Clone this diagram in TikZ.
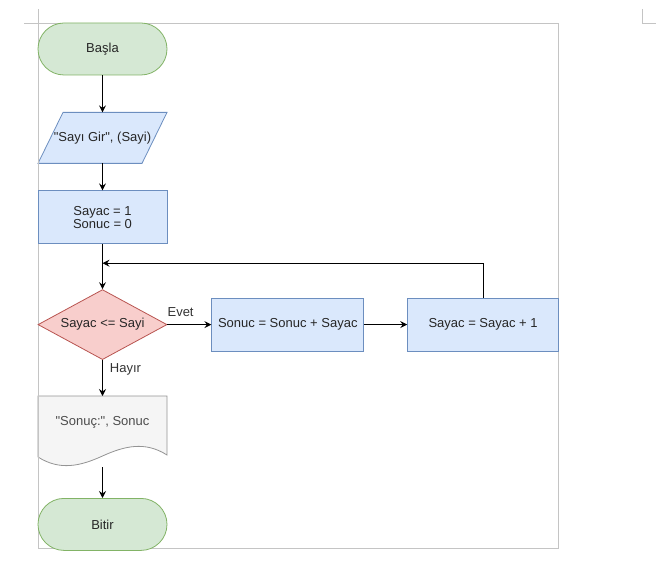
\documentclass[tikz,border=0pt]{standalone}
\usepackage{fontspec}
\newfontfamily\flowfont{Liberation Sans}
\definecolor{flowGreen}{HTML}{D5E8D4}
\definecolor{flowGreenLine}{HTML}{82B366}
\definecolor{flowBlue}{HTML}{DAE8FC}
\definecolor{flowBlueLine}{HTML}{6C8EBF}
\definecolor{flowRed}{HTML}{F8CECC}
\definecolor{flowRedLine}{HTML}{B85450}
\definecolor{flowGray}{HTML}{F5F5F5}
\definecolor{flowGrayLine}{HTML}{666666}
\definecolor{pageLine}{HTML}{C4C4C4}
\usetikzlibrary{arrows.meta,positioning,shapes.geometric,backgrounds}

\begin{document}
\begin{tikzpicture}[
  x=1pt, y=-1pt,
  base/.style={line width=0.8pt, font=\flowfont\fontsize{13}{13}\selectfont,
               text=black!85, align=center, inner sep=0pt},
  term/.style={base, draw=flowGreenLine, fill=flowGreen, rounded corners=26pt,
               minimum width=129pt, minimum height=52pt},
  iobox/.style={base, outer sep=0pt, minimum width=129pt, minimum height=51pt},
  proc/.style={base, draw=flowBlueLine, fill=flowBlue, minimum height=53pt},
  decision/.style={base, draw=flowRedLine, fill=flowRed, diamond, shape aspect=1.84,
                   minimum width=129pt, minimum height=70pt},
  docbox/.style={base, outer sep=0pt, text=black!70, minimum width=129pt,
                 text height=29pt, text depth=42pt},
  arr/.style={-{Stealth[length=7pt,width=7pt,inset=2.5pt]}, line width=0.9pt},
  lbl/.style={font=\flowfont\fontsize{13}{13}\selectfont, text=black!80, inner sep=2pt}
]
  \useasboundingbox (0,0) rectangle (666,569);
  \draw[pageLine, line width=0.8pt] (38,23) rectangle (558,548);
  \draw[pageLine, line width=0.8pt] (24,23) -- (38,23) -- (38,9);
  \draw[pageLine, line width=0.8pt] (642,9) -- (642,23) -- (656,23);

  \node[term] (start) at (102.5,49) {Başla};
  \node[iobox, below=37pt of start] (input) {"Sayı Gir", (Sayi)};
  \node[proc, minimum width=129pt, below=27pt of input] (init) {Sayac = 1\\Sonuc = 0};
  \node[decision, below=45pt of init] (cond) {Sayac <= Sayi};
  \node[proc, minimum width=152pt, right=44pt of cond] (sum) {Sonuc = Sonuc + Sayac};
  \node[proc, minimum width=151pt, right=43pt of sum] (inc) {Sayac = Sayac + 1};
  \node[docbox, below=36pt of cond] (out) {"Sonuç:", Sonuc};
  \node[term, below=31pt of out] (stop) {Bitir};
  \coordinate[below=19pt of init] (join);

  \begin{scope}[on background layer]
    \draw[line width=0.8pt, draw=flowBlueLine, fill=flowBlue]
      ([xshift=25pt]input.north west) -- (input.north east)
      -- ([xshift=-25pt]input.south east) -- (input.south west) -- cycle;
    \draw[line width=0.8pt, draw=flowGrayLine!70, fill=flowGray]
      (out.north west) -- (out.north east) -- ([yshift=12pt]out.south east)
      .. controls +(-22,-14) and +(22,-10) .. ([yshift=11pt]out.south)
      .. controls +(-22,10) and +(22,14) .. ([yshift=10pt]out.south west) -- cycle;
  \end{scope}

  \draw[arr] (start) -- (input);
  \draw[arr] (input) -- (init);
  \draw[arr] (init) -- (cond);
  \draw[arr] (cond) -- node[lbl, above=6pt, pos=0.3] {Evet} (sum);
  \draw[arr] (sum) -- (inc);
  \draw[arr] (inc.north) |- (join);
  \draw[arr] (cond) -- node[lbl, right=5pt, pos=0.25] {Hayır} (out);
  \draw[arr] (out) -- (stop);
\end{tikzpicture}
\end{document}
